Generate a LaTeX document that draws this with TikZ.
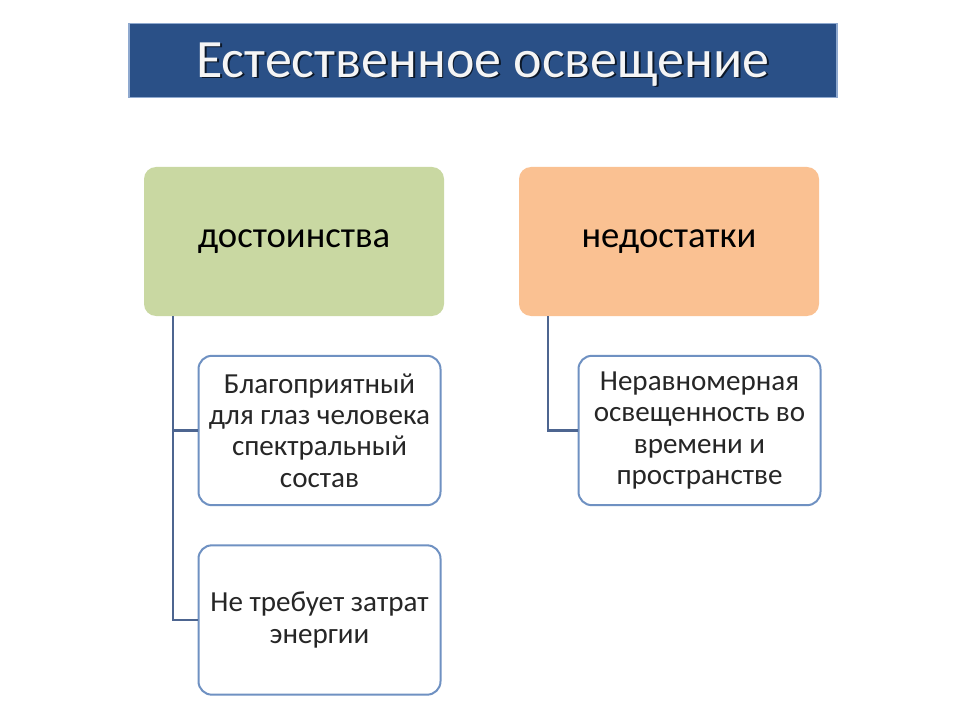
\documentclass[tikz,border=0pt]{standalone}
\usepackage{fontspec}
\setmainfont{Carlito}
\usetikzlibrary{positioning,shadows}
\definecolor{titleblue}{HTML}{2A5087}
\definecolor{titleedge}{HTML}{8FA9CF}
\definecolor{hgreen}{HTML}{C9D8A2}
\definecolor{horange}{HTML}{FAC192}
\definecolor{childedge}{HTML}{6F91C2}
\definecolor{linkcol}{HTML}{4D6590}
\tikzset{
  headbox/.style={rounded corners=9pt, minimum width=225pt, minimum height=111.75pt, inner sep=0pt, font=\fontsize{27.5}{32}\selectfont, text=black},
  childbox/.style={draw=childedge, line width=1.5pt, fill=white, rounded corners=10pt, minimum width=181.5pt, minimum height=112pt, inner sep=0pt, align=center, font=\fontsize{21.8}{23.6}\selectfont, text=black!85},
  link/.style={draw=linkcol, line width=1.6pt},
  titletext/.style={font=\fontsize{40.5}{46}\selectfont},
}
\begin{document}
\begin{tikzpicture}[x=0.75pt,y=-0.75pt]
\useasboundingbox (0,0) rectangle (960,720);
\fill[white] (0,0) rectangle (960,720);
% title
\node[draw=titleedge, line width=1.2pt, fill=titleblue, minimum width=531pt, minimum height=55.5pt, inner sep=0pt] (title) at (483,60.5) {};
\node[titletext, text=black!70!titleblue] at ([xshift=1.2pt,yshift=-4.2pt]title.center) {Естественное освещение};
\node[titletext, text=white!96!black] (titletxt) at ([yshift=-3pt]title.center) {Естественное освещение};
% headers
\node[headbox, fill=hgreen] (adv) at (294,241.5) {достоинства};
\node[headbox, fill=horange] (dis) at (669,241.5) {недостатки};
% children
\node[childbox] (a1) at (319.5,430.5) {Благоприятный\\для глаз человека\\спектральный\\состав};
\node[childbox] (a2) at (319.5,620) {Не требует затрат\\энергии};
\node[childbox] (d1) at (699.5,430.5) {Неравномерная\\освещенность во\\времени и\\пространстве};
% connectors
\coordinate (ja) at (173,0);
\draw[link] (adv.south -| ja) |- (a1.west);
\draw[link] (adv.south -| ja) |- (a2.west);
\coordinate (jd) at (548,0);
\draw[link] (dis.south -| jd) |- (d1.west);
\end{tikzpicture}
\end{document}
